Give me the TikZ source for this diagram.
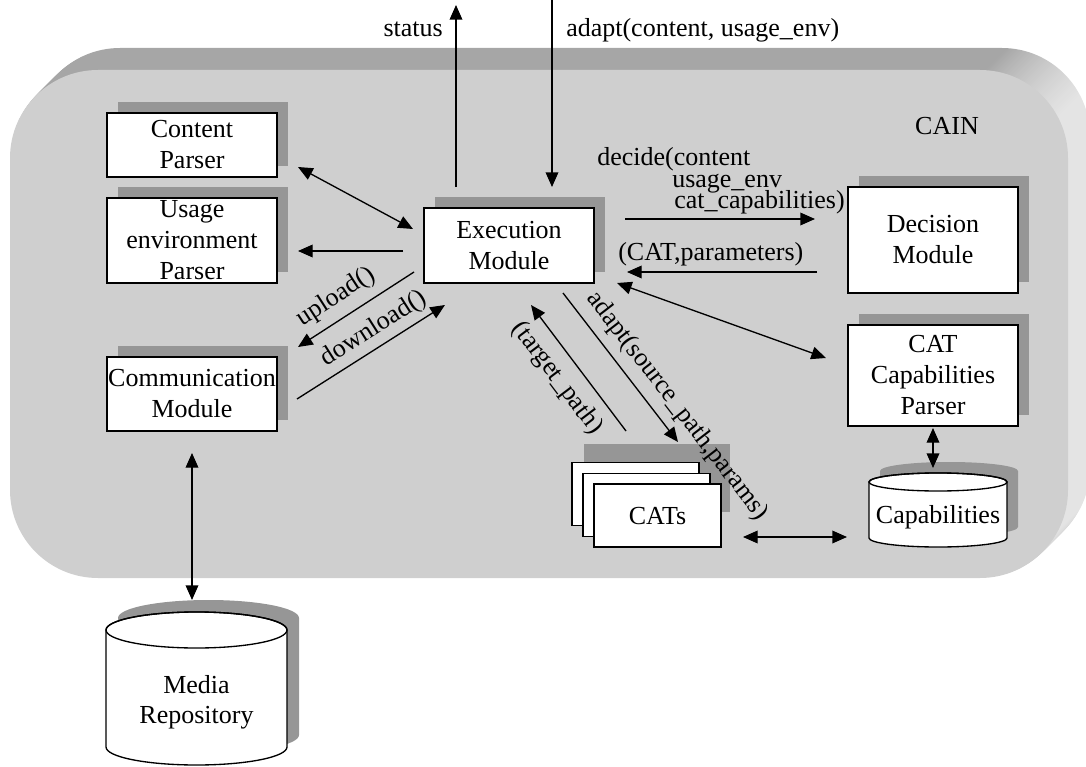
\documentclass[tikz,border=0pt]{standalone}
\usepackage{fontspec}
\setmainfont{Liberation Serif}
\usetikzlibrary{arrows.meta,shadows}

\definecolor{facegray}{RGB}{207,207,207}
\definecolor{topgray}{RGB}{166,166,166}
\definecolor{sidegray}{RGB}{228,228,228}
\definecolor{dropgray}{RGB}{150,150,150}

% dark top face of the CAIN slab, light right face
\pgfdeclarehorizontalshading{cainedge}{100bp}{color(0bp)=(topgray); color(71bp)=(topgray); color(74.5bp)=(sidegray); color(100bp)=(sidegray)}

\tikzset{
  arr/.style={line width=1pt, -{Triangle[length=11pt,width=9.5pt]}},
  darr/.style={line width=1pt, {Triangle[length=11pt,width=9.5pt]}-{Triangle[length=11pt,width=9.5pt]}},
  module/.style={draw, line width=1.1pt, fill=white, inner sep=0pt, align=center,
    minimum width=127.5pt,
    general shadow={fill=dropgray, shadow xshift=8.25pt, shadow yshift=8.25pt}},
  card/.style={draw, line width=1.1pt, fill=white, inner sep=0pt,
    minimum width=95.25pt, minimum height=47.25pt},
  lbl/.style={inner sep=0pt},
  cyl/.style={draw, line width=1pt, fill=white},
  cylshadow/.style={fill=dropgray}
}

\begin{document}
\begin{tikzpicture}[x=0.75pt, y=-0.75pt, font=\fontsize{19.5pt}{23.25pt}\selectfont]
\useasboundingbox (0,0) rectangle (1086,767);

% ---- CAIN slab: extruded rounded block ----
\foreach \d in {22,21,...,1}{
  \shade[shading=cainedge, xshift=\d*0.75pt, yshift=\d*0.75pt, rounded corners=66pt]
    (10,70) rectangle (1068,578);
}
\fill[facegray, rounded corners=66pt] (10,70) rectangle (1068,578);
\node[lbl, anchor=base] (cain) at (947,135) {CAIN};

% ---- modules ----
\node[module, minimum height=48pt]    (content) at (192,145)   {Content\\Parser};
\node[module, minimum height=63.75pt] (usage)   at (192,240.5) {Usage\\environment\\Parser};
\node[module, minimum height=55.5pt]  (comm)    at (192,394)   {Communication\\Module};
\node[module, minimum height=56.25pt] (exec)    at (509,245.5) {Execution\\Module};
\node[module, minimum height=79.5pt]  (decision) at (933,240)  {Decision\\Module};
\node[module, minimum height=75.75pt] (catparser) at (933,375.5) {CAT\\Capabilities\\Parser};

% ---- CATs: stacked cards ----
\fill[dropgray] (584,444) rectangle (730,512);
\node[card] (catback) at (635.5,494) {};
\node[card] (catmid)  at (646.5,505) {};
\node[card] (cats)    at (657.5,515.5) {};
\node[lbl, anchor=base] (catstext) at (657.5,524.5) {CATs};

% ---- Capabilities cylinder ----
\fill[cylshadow] (880,471) -- (880,527)
  arc[start angle=180, end angle=360, x radius=51.75pt, y radius=6.75pt]
  -- (1018,471)
  arc[start angle=0, end angle=180, x radius=51.75pt, y radius=6.75pt] -- cycle;
\path[cyl] (869,482) -- (869,538)
  arc[start angle=180, end angle=360, x radius=51.75pt, y radius=6.75pt]
  -- (1007,482)
  arc[start angle=0, end angle=180, x radius=51.75pt, y radius=6.75pt] -- cycle;
\draw[line width=1pt] (938,482) ellipse[x radius=51.75pt, y radius=6.75pt];
\node[lbl, anchor=base] (capab) at (938,523) {Capabilities};

% ---- Media Repository cylinder ----
\fill[cylshadow] (118,618) -- (118,735)
  arc[start angle=180, end angle=360, x radius=67.875pt, y radius=13.5pt]
  -- (299,618)
  arc[start angle=0, end angle=180, x radius=67.875pt, y radius=13.5pt] -- cycle;
\path[cyl] (106,630) -- (106,747)
  arc[start angle=180, end angle=360, x radius=67.875pt, y radius=13.5pt]
  -- (287,630)
  arc[start angle=0, end angle=180, x radius=67.875pt, y radius=13.5pt] -- cycle;
\draw[line width=1pt] (196.5,630) ellipse[x radius=67.875pt, y radius=13.5pt];
\node[lbl, align=center, font=\fontsize{19.5pt}{22.5pt}\selectfont] (media) at (196.5,702) {Media\\Repository};

% ---- connector end points ----
\coordinate (exec-st)  at (456,187);
\coordinate (st-out)   at (456,5);
\coordinate (ad-in)    at (552,0);
\coordinate (exec-ad)  at (552,187);
\coordinate (cp-e)     at (298,167);
\coordinate (exec-cp)  at (413,229);
\coordinate (exec-ue)  at (403,251);
\coordinate (ue-e)     at (298,251);
\coordinate (exec-up)  at (414,272);
\coordinate (comm-up)  at (298,347);
\coordinate (comm-dn)  at (297,399);
\coordinate (exec-dn)  at (445,305);
\coordinate (exec-dc)  at (625,219);
\coordinate (dec-dc)   at (815,219);
\coordinate (dec-cp)   at (817,272);
\coordinate (exec-pr)  at (627,272);
\coordinate (exec-cc)  at (617,283);
\coordinate (cc-w)     at (826,358);
\coordinate (cats-tp)  at (626,431);
\coordinate (exec-tp)  at (531,305);
\coordinate (exec-sp)  at (563,293);
\coordinate (cats-sp)  at (678,442);
\coordinate (cc-s)     at (933,428);
\coordinate (capab-n)  at (933,468);
\coordinate (cats-e)   at (743,537);
\coordinate (capab-w)  at (847,537);
\coordinate (comm-s)   at (192,453);
\coordinate (media-n)  at (192,600);

% ---- connectors ----
\draw[arr]  (exec-st) -- (st-out);
\draw[arr]  (ad-in) -- (exec-ad);
\draw[darr] (cp-e) -- (exec-cp);
\draw[arr]  (exec-ue) -- (ue-e);
\draw[arr]  (exec-up) -- (comm-up);
\draw[arr]  (comm-dn) -- (exec-dn);
\draw[arr]  (exec-dc) -- (dec-dc);
\draw[arr]  (dec-cp) -- (exec-pr);
\draw[darr] (exec-cc) -- (cc-w);
\draw[arr]  (cats-tp) -- (exec-tp);
\draw[arr]  (exec-sp) -- (cats-sp);
\draw[darr] (cc-s) -- (capab-n);
\draw[darr] (cats-e) -- (capab-w);
\draw[darr] (comm-s) -- (media-n);

% ---- connector labels ----
\node[lbl, anchor=base east] (lstatus) at (443,37) {status};
\node[lbl, anchor=base west] (ladapt)  at (566,37) {adapt(content, usage\_env)};
\node[lbl, anchor=base west] (ldecA) at (597,166) {decide(content};
\node[lbl, anchor=base west] (ldecB) at (672,187) {usage\_env};
\node[lbl, anchor=base west] (ldecC) at (674,208) {cat\_capabilities)};
\node[lbl, anchor=base west] (lpar)  at (618,260) {(CAT,parameters)};
\node[lbl, rotate=32.9]  (lup)  at (336,297) {upload()};
\node[lbl, rotate=32.5]  (ldn)  at (374,329) {download()};
\node[lbl, rotate=-53]   (ltp)  at (557,378) {(target\_path)};
\node[lbl, rotate=-52.3] (lsp)  at (677,406) {adapt(source\_path,params)};
\end{tikzpicture}
\end{document}
